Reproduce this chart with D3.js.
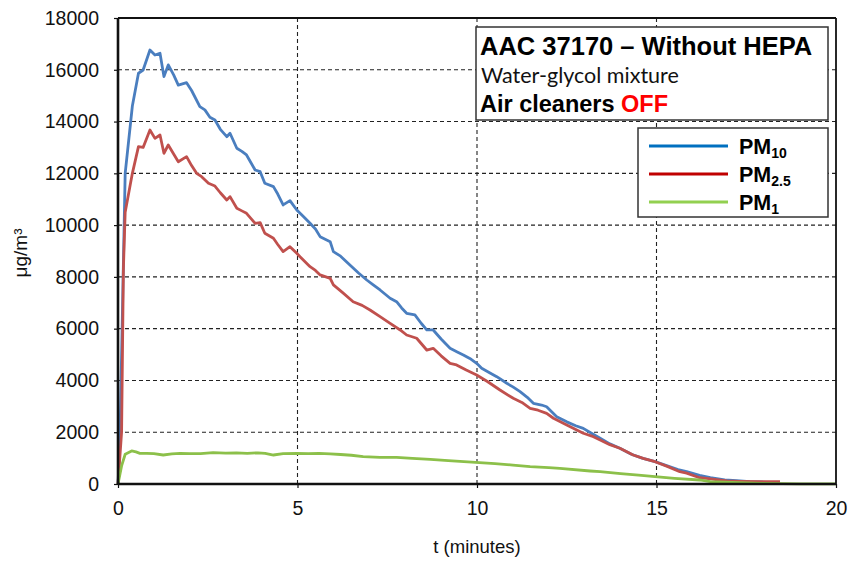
<!DOCTYPE html>
<html>
<head>
<meta charset="utf-8">
<script src="https://cdn.jsdelivr.net/npm/d3@7"></script>
<style>
  html, body { margin: 0; padding: 0; background: #fff; }
  svg { display: block; font-family: "Liberation Sans", Arial, sans-serif; }
</style>
</head>
<body>
<svg id="chart" width="850" height="562"></svg>
<script>
// ---------- DATA ----------
const xTicks = [0, 5, 10, 15, 20];
const yTicks = [0, 2000, 4000, 6000, 8000, 10000, 12000, 14000, 16000, 18000];

const pm10T = [0, 0.05, 0.15, 0.2, 0.4, 0.57, 0.70, 0.89, 1.03, 1.17, 1.28, 1.40, 1.55, 1.68, 1.91, 2.05, 2.28, 2.42, 2.56, 2.70, 2.85, 3.03, 3.12, 3.31, 3.45, 3.58, 3.82, 3.96, 4.09, 4.33, 4.45, 4.60, 4.79, 4.98, 5.15, 5.35, 5.50, 5.63, 5.91, 6.00, 6.20, 6.46, 6.70, 6.93, 7.10, 7.30, 7.58, 7.76, 7.90, 8.04, 8.27, 8.45, 8.60, 8.78, 9.00, 9.25, 9.45, 9.62, 9.80, 9.99, 10.13, 10.35, 10.55, 10.83, 11.00, 11.20, 11.40, 11.57, 11.80, 11.94, 12.22, 12.50, 12.75, 12.96, 13.20, 13.43, 13.70, 13.98, 14.30, 14.60, 14.96, 15.30, 15.60, 15.84, 16.20, 16.50, 16.90, 17.23, 17.60, 17.90, 18.20];
const pm10V = [0, 1500, 8500, 12000, 14600, 15865, 15990, 16765, 16570, 16640, 15735, 16190, 15800, 15410, 15500, 15200, 14575, 14450, 14165, 14060, 13700, 13415, 13550, 12970, 12850, 12710, 12130, 12065, 11615, 11485, 11200, 10780, 10945, 10585, 10350, 10070, 9850, 9555, 9360, 8975, 8800, 8460, 8150, 7880, 7700, 7495, 7175, 7040, 6800, 6595, 6530, 6200, 5950, 5950, 5600, 5240, 5100, 4985, 4850, 4660, 4470, 4300, 4145, 3890, 3750, 3565, 3350, 3115, 3050, 2985, 2600, 2400, 2250, 2150, 1950, 1765, 1550, 1380, 1150, 1000, 862, 700, 560, 475, 330, 243, 160, 127, 90, 80, 50];

const pm25T = [0, 0.1, 0.15, 0.2, 0.4, 0.57, 0.70, 0.89, 1.03, 1.17, 1.28, 1.40, 1.55, 1.68, 1.91, 2.05, 2.19, 2.33, 2.52, 2.70, 2.85, 3.03, 3.12, 3.31, 3.45, 3.58, 3.82, 3.96, 4.09, 4.33, 4.45, 4.60, 4.79, 4.98, 5.07, 5.35, 5.50, 5.63, 5.91, 6.00, 6.25, 6.55, 6.80, 7.02, 7.30, 7.58, 7.86, 8.04, 8.32, 8.60, 8.78, 9.00, 9.25, 9.43, 9.70, 9.99, 10.30, 10.64, 11.01, 11.25, 11.48, 11.70, 11.94, 12.13, 12.50, 12.96, 13.20, 13.43, 13.70, 13.98, 14.35, 14.65, 14.96, 15.30, 15.65, 15.84, 16.20, 16.50, 16.96, 17.30, 17.90, 18.44];
const pm25V = [0, 2000, 8300, 10500, 12000, 13030, 13000, 13675, 13350, 13480, 12775, 13095, 12750, 12450, 12645, 12300, 12000, 11870, 11615, 11510, 11250, 10970, 11100, 10650, 10550, 10455, 10070, 10095, 9685, 9490, 9250, 8975, 9165, 8910, 8780, 8395, 8250, 8075, 7945, 7690, 7400, 7040, 6900, 6720, 6465, 6205, 5950, 5755, 5630, 5175, 5240, 4950, 4660, 4600, 4400, 4210, 3950, 3630, 3310, 3150, 2925, 2850, 2730, 2540, 2280, 1960, 1850, 1700, 1520, 1380, 1120, 980, 862, 680, 475, 420, 243, 200, 116, 100, 89, 89];

const pm1T = [0, 0.1, 0.2, 0.38, 0.5, 0.61, 0.8, 1.0, 1.26, 1.5, 1.73, 2.0, 2.3, 2.65, 3.0, 3.3, 3.6, 3.9, 4.1, 4.33, 4.6, 4.98, 5.3, 5.6, 5.91, 6.2, 6.5, 6.83, 7.3, 7.76, 8.2, 8.7, 9.2, 9.96, 10.5, 11.0, 11.48, 12.0, 12.31, 13.15, 13.43, 14.0, 14.5, 14.96, 15.5, 16.2, 16.5, 17.1, 17.9, 18.5, 19.0, 20];
const pm1V = [0, 700, 1150, 1275, 1240, 1185, 1180, 1170, 1120, 1160, 1185, 1170, 1175, 1210, 1190, 1200, 1185, 1205, 1180, 1120, 1170, 1185, 1170, 1180, 1160, 1140, 1110, 1055, 1030, 1030, 990, 950, 900, 838, 790, 730, 668, 630, 607, 502, 475, 400, 340, 282, 220, 155, 89, 66, 27, 15, 8, 5];

const seriesNames = ["PM10", "PM2.5", "PM1"];
const lineColors = ["#4a7ebf", "#c0504d", "#8cc04a"];
const legendColors = ["#0070c0", "#c00000", "#92d050"];

// ---------- CHART ----------
const svg = d3.select("#chart");
const L = 118, R = 836, T = 18, B = 484;
const x = d3.scaleLinear().domain([0, 20]).range([L, R]);
const y = d3.scaleLinear().domain([0, 18000]).range([B, T]);

// grid
const grid = svg.append("g");
grid.selectAll("line.h").data(yTicks.filter(d => d > 0 && d < 18000)).join("line")
  .attr("x1", L).attr("x2", R).attr("y1", d => y(d)).attr("y2", d => y(d))
  .attr("stroke", "#222").attr("stroke-width", 1.1).attr("stroke-dasharray", "4,3");
grid.selectAll("line.v").data(xTicks.filter(d => d > 0 && d < 20)).join("line")
  .attr("y1", T).attr("y2", B).attr("x1", d => x(d)).attr("x2", d => x(d))
  .attr("stroke", "#222").attr("stroke-width", 1.1).attr("stroke-dasharray", "4,3");

// lines
const series = [
  pm10T.map((t, i) => [t, pm10V[i]]),
  pm25T.map((t, i) => [t, pm25V[i]]),
  pm1T.map((t, i) => [t, pm1V[i]])
];
const lineGen = d3.line().x(d => x(d[0])).y(d => y(d[1]));
[0, 1, 2].forEach(i => {
  svg.append("path").datum(series[i])
    .attr("fill", "none").attr("stroke", lineColors[i])
    .attr("stroke-width", 2.8).attr("stroke-linejoin", "round")
    .attr("d", lineGen);
});

// frame
svg.append("line").attr("x1", L).attr("x2", R).attr("y1", T).attr("y2", T).attr("stroke", "#111").attr("stroke-width", 1.8);
svg.append("line").attr("x1", R).attr("x2", R).attr("y1", T).attr("y2", B).attr("stroke", "#111").attr("stroke-width", 1.8);

// axes
const yAxis = svg.append("g").attr("transform", `translate(${L},0)`)
  .call(d3.axisLeft(y).tickValues(yTicks).tickSize(4).tickPadding(15).tickFormat(d3.format("d")));
const xAxis = svg.append("g").attr("transform", `translate(0,${B})`)
  .call(d3.axisBottom(x).tickValues(xTicks).tickSize(4).tickPadding(13).tickFormat(d3.format("d")));
[yAxis, xAxis].forEach(a => {
  a.select(".domain").attr("stroke", "#111").attr("stroke-width", 2.6);
  a.selectAll(".tick line").attr("stroke", "#111").attr("stroke-width", 1.2);
  a.selectAll(".tick text").attr("font-size", "19.5px").attr("fill", "#111")
    .attr("font-family", "'Liberation Sans', Arial, sans-serif");
});
yAxis.select(".domain").attr("d", `M0,${T}V${B}`);
xAxis.select(".domain").attr("d", `M${L},0H${R}`);

// axis titles
svg.append("text").attr("x", x(10)).attr("y", 553).attr("text-anchor", "middle")
  .attr("font-size", "18.5px").attr("fill", "#111").text("t (minutes)");
svg.append("text").attr("transform", "translate(27,253) rotate(-90)").attr("text-anchor", "middle")
  .attr("font-size", "19px").attr("fill", "#111").text("μg/m³");

// title box
svg.append("rect").attr("x", 476).attr("y", 27).attr("width", 352).attr("height", 93)
  .attr("fill", "#fff").attr("stroke", "#333").attr("stroke-width", 1.5);
svg.append("text").attr("x", 480).attr("y", 55).attr("font-size", "25.5px").attr("font-weight", "bold")
  .attr("fill", "#000").text("AAC 37170 – Without HEPA");
svg.append("text").attr("x", 481).attr("y", 83).attr("font-size", "21.5px")
  .attr("font-family", "Lato, 'Open Sans', sans-serif").attr("fill", "#111").text("Water-glycol mixture");
const t3 = svg.append("text").attr("x", 480).attr("y", 111.5).attr("font-size", "23.5px").attr("font-weight", "bold").attr("fill", "#000");
t3.append("tspan").text("Air cleaners ");
t3.append("tspan").attr("fill", "#ff0000").text("OFF");

// legend box
svg.append("rect").attr("x", 638).attr("y", 128).attr("width", 190).attr("height", 89)
  .attr("fill", "#fff").attr("stroke", "#333").attr("stroke-width", 1.5);
const legY = [146, 174, 202];
const subs = ["10", "2.5", "1"];
seriesNames.forEach((n, i) => {
  svg.append("line").attr("x1", 649).attr("x2", 728).attr("y1", legY[i]).attr("y2", legY[i])
    .attr("stroke", legendColors[i]).attr("stroke-width", 3);
  const tx = svg.append("text").attr("x", 739).attr("y", legY[i] + 7.5)
    .attr("font-size", "21.5px").attr("font-weight", "bold").attr("fill", "#000");
  tx.append("tspan").text("PM");
  tx.append("tspan").attr("font-size", "14px").attr("dy", 4).text(subs[i]);
});
</script>
</body>
</html>
